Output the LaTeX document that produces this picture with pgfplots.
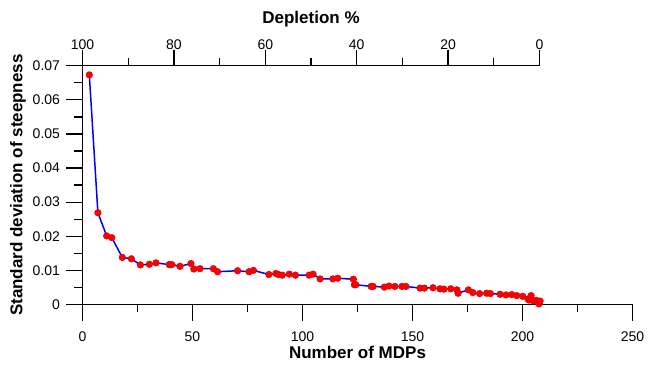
\documentclass[border=0pt]{standalone}
\usepackage{pgfplots}
\pgfplotsset{compat=1.18}
\usepackage{fontspec}
\setmainfont{Liberation Sans}
\begin{document}
\begin{tikzpicture}
\useasboundingbox (0,0) rectangle (650pt,369pt);
\pgfplotsset{
  common/.style={
    scale only axis,
    /pgf/number format/assume math mode=true,
    major tick length=16pt,
    minor tick length=8pt,
    axis line style={line width=1.3pt, black},
    every tick/.style={line width=1.3pt, black},
    tick label style={font=\fontsize{14}{16}\selectfont},
    label style={font=\bfseries\fontsize{17}{20}\selectfont},
  }
}
\begin{axis}[common,
  at={(82.5pt,64.5pt)}, anchor=south west,
  width=550pt, height=238.8pt,
  xmin=0, xmax=250, ymin=0, ymax=0.07,
  axis x line*=bottom, axis y line*=left,
  xtick align=outside, ytick align=outside,
  xtick={0,50,...,250}, minor xtick={25,75,...,225},
  ytick={0,0.01,...,0.07}, minor ytick={0.005,0.015,...,0.065},
  scaled y ticks=false,
  yticklabel style={/pgf/number format/fixed, /pgf/number format/precision=2, xshift=-3pt},
  xticklabel style={yshift=-8pt},
  xlabel={Number of MDPs},
  ylabel={Standard deviation of steepness},
  xlabel style={at={(axis description cs:0.5,0)}, anchor=base, yshift=-54pt},
  ylabel style={yshift=0pt},
  clip=false,
]
\addplot[blue, line width=1.5pt, mark=*, mark size=3.3pt,
  mark options={fill=red, draw=red!85!black, line width=0.5pt}] coordinates {
(3.1,0.0673) (7.0,0.0269) (11.0,0.0201) (13.3,0.0196) (18.1,0.0138)
(22.2,0.0134) (26.3,0.0116) (30.4,0.0118) (33.4,0.0122) (39.4,0.0117)
(40.6,0.0117) (44.3,0.0112) (49.3,0.0120) (50.6,0.0104) (53.4,0.0105)
(59.5,0.0105) (61.4,0.0096) (70.5,0.0099) (75.7,0.0096) (77.7,0.0100)
(84.7,0.0088) (87.9,0.0091) (89.0,0.0088) (90.8,0.0086) (94.0,0.0089)
(96.8,0.0086) (103.0,0.0086) (104.8,0.0089) (108.0,0.0075) (113.8,0.0075)
(116.0,0.0077) (123.1,0.0074) (123.6,0.0058) (124.2,0.0058) (131.2,0.0053)
(132.1,0.0053) (137.2,0.0051) (139.3,0.0054) (142.0,0.0053) (145.2,0.0053)
(147.0,0.0053) (153.4,0.0048) (155.4,0.0048) (159.3,0.0049) (162.5,0.0046)
(164.3,0.0045) (167.4,0.0046) (170.2,0.0043) (170.7,0.0033) (175.4,0.0043)
(177.4,0.0035) (180.5,0.0032) (183.7,0.0033) (185.4,0.0032) (189.8,0.0030)
(192.5,0.0028) (195.1,0.0029) (197.4,0.0026) (200.1,0.0024) (202.5,0.0016)
(203.0,0.0013) (203.9,0.0026) (204.6,0.0012) (205.2,0.0010) (206.3,0.0012)
(207.5,0.0002) (208.0,0.0010)
};
\end{axis}
\begin{axis}[common,
  at={(82.5pt,64.5pt)}, anchor=south west,
  width=457pt, height=238.8pt,
  xmin=0, xmax=100, x dir=reverse,
  ymin=0, ymax=1,
  axis x line*=top, axis y line=none,
  xtick align=outside,
  xtick={0,20,...,100}, minor xtick={10,30,...,90},
  xticklabel style={yshift=-3pt},
  xlabel={Depletion \%},
  xlabel style={yshift=5pt},
]
\end{axis}
\end{tikzpicture}
\end{document}
